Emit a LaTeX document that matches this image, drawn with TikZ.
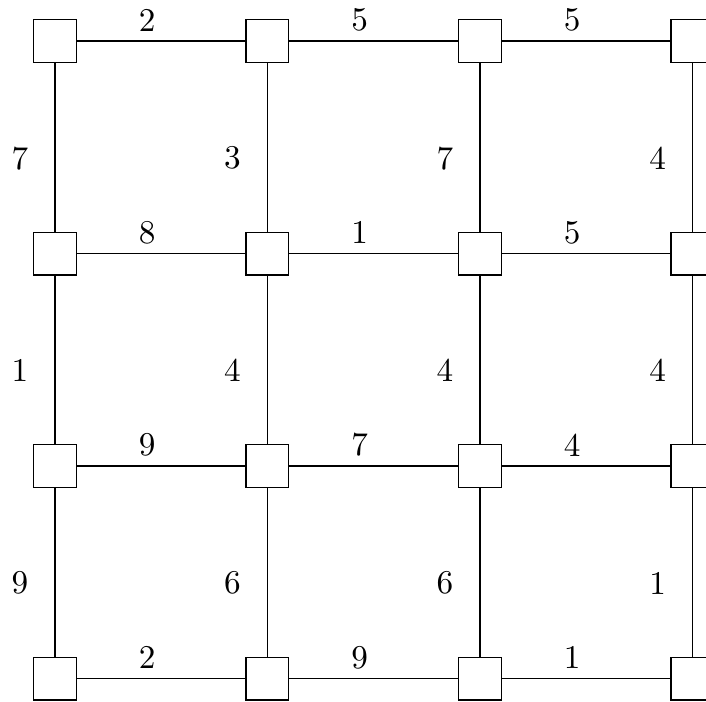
\documentclass[tikz,border=0pt]{standalone}
\usepackage{tikz}
\usetikzlibrary{positioning}

\begin{document}
\begin{tikzpicture}[cell/.style={draw, minimum size=0.452cm, inner sep=0pt},
  hw/.style={xshift=-0.148cm, yshift=0.222cm},
  vw/.style={xshift=-0.37cm, yshift=-0.116cm}]
  \useasboundingbox (-0.582,0.434) rectangle (6.893,-6.989);
  % grid of cells
  \foreach \i in {0,...,3}
    \foreach \j in {0,...,3}
      \node[cell] (n\i\j) at ({2.25*\i},{-2.25*\j}) {};
  % horizontal edges
  \foreach \j/\ws in {0/{2,5,5}, 1/{8,1,5}, 2/{9,7,4}, 3/{2,9,1}}
    \foreach \w [count=\k] in \ws {
      \pgfmathtruncatemacro\i{\k-1}
      \draw (n\i\j) -- node[hw] {\w} (n\k\j);
    }
  % vertical edges
  \foreach \i/\ws in {0/{7,1,9}, 1/{3,4,6}, 2/{7,4,6}, 3/{4,4,1}}
    \foreach \w [count=\k] in \ws {
      \pgfmathtruncatemacro\j{\k-1}
      \draw (n\i\j) -- node[vw] {\w} (n\i\k);
    }
\end{tikzpicture}
\end{document}
